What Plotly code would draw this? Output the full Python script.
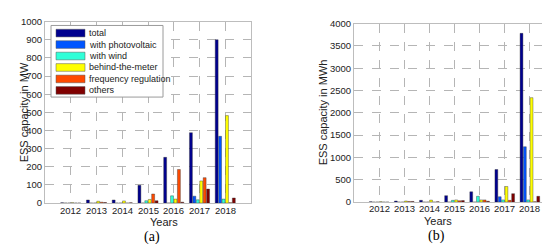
import plotly.graph_objects as go
from plotly.subplots import make_subplots

years = [2012, 2013, 2014, 2015, 2016, 2017, 2018]
series_names = ["total", "with photovoltaic", "with wind", "behind-the-meter",
                "frequency regulation", "others"]
colors = ["#00008F", "#0055FF", "#30FFD8", "#FFFF00", "#FF4A00", "#800000"]

# (a) power capacity in MW
mw_total = [2, 17, 17, 98, 252, 388, 900]
mw_pv = [0, 0, 0, 0, 0, 38, 368]
mw_wind = [0, 0, 0, 13, 40, 18, 22]
mw_btm = [2, 10, 12, 20, 22, 122, 482]
mw_freq = [0, 5, 0, 50, 185, 140, 2]
mw_other = [0, 3, 2, 13, 5, 77, 28]

# (b) energy capacity in MWh
mwh_total = [10, 25, 40, 145, 230, 730, 3780]
mwh_pv = [0, 0, 0, 0, 0, 120, 1240]
mwh_wind = [0, 0, 0, 40, 130, 50, 50]
mwh_btm = [10, 25, 45, 50, 50, 350, 2340]
mwh_freq = [0, 15, 0, 30, 50, 40, 10]
mwh_other = [0, 15, 10, 35, 20, 190, 130]

W, H = 550, 244


def px(x):
    return x / W


def py(y):
    return 1 - y / H


fig = make_subplots(rows=1, cols=2)

for col, data in [(1, [mw_total, mw_pv, mw_wind, mw_btm, mw_freq, mw_other]),
                  (2, [mwh_total, mwh_pv, mwh_wind, mwh_btm, mwh_freq, mwh_other])]:
    for name, vals, c in zip(series_names, data, colors):
        fig.add_trace(go.Bar(x=years, y=vals, name=name, marker_color=c,
                             marker_line=dict(color="#333333", width=0.4),
                             showlegend=False), row=1, col=col)

tick_font = dict(family="Liberation Sans, Arial", size=9.5, color="#222222")
axis_common = dict(showline=True, linecolor="#bdbdbd", linewidth=1, mirror=True,
                   showgrid=True, gridcolor="#b5b5b5", griddash="dash", gridwidth=1,
                   zeroline=False, ticks="", tickfont=tick_font)

fig.update_xaxes(range=[2011, 2019], tickvals=years, showticklabels=False, **axis_common)
fig.update_xaxes(domain=[px(37), px(243)], row=1, col=1)
fig.update_xaxes(domain=[px(346), px(547)], row=1, col=2)
fig.update_yaxes(**axis_common)
fig.update_yaxes(range=[0, 1000], dtick=100, domain=[py(198), py(8)], row=1, col=1)
fig.update_yaxes(range=[0, 4000], dtick=500, domain=[py(197), py(10)], row=1, col=2)

label_font = dict(family="Liberation Sans, Arial", size=11, color="#222222")
annotations = [
    dict(x=px(140), y=py(218), text="Years", font=label_font),
    dict(x=px(446), y=py(217), text="Years", font=label_font),
    dict(x=px(8), y=py(103), text="ESS capacity in MW", textangle=-90, font=label_font),
    dict(x=px(315), y=py(103), text="ESS capacity in MWh", textangle=-90, font=label_font),
    dict(x=px(134), y=py(234), text="(a)",
         font=dict(family="Liberation Serif, DejaVu Serif", size=14, color="#000000")),
    dict(x=px(439), y=py(233), text="(b)",
         font=dict(family="Liberation Serif, DejaVu Serif", size=14, color="#000000")),
]

# year labels placed close under the axes, as in the original
for xref, ylab in [("x", 206), ("x2", 204)]:
    for yr in years:
        annotations.append(dict(x=yr, xref=xref, y=py(ylab), text=str(yr), font=tick_font))

# legend box drawn by hand (wide swatches as in the original)
shapes = [dict(type="rect", xref="paper", yref="paper", x0=px(43), x1=px(155),
               y0=py(87), y1=py(12), line=dict(color="#9a9a9a", width=1),
               fillcolor="white", layer="above")]
for i, (name, c) in enumerate(zip(series_names, colors)):
    yc = 20 + i * 12
    shapes.append(dict(type="rect", xref="paper", yref="paper", x0=px(48), x1=px(77),
                       y0=py(yc + 4), y1=py(yc - 4), fillcolor=c,
                       line=dict(color="#555555", width=0.5), layer="above"))
    annotations.append(dict(x=px(79), y=py(yc), text=name, xanchor="left",
                            font=dict(family="Liberation Sans, Arial", size=9,
                                      color="#222222")))

for a in annotations:
    a.setdefault("xref", "paper")
    a.setdefault("yref", "paper")
    a.setdefault("showarrow", False)
    a.setdefault("yanchor", "middle")

fig.update_layout(width=W, height=H, margin=dict(l=0, r=0, t=0, b=0),
                  paper_bgcolor="white", plot_bgcolor="white",
                  barmode="group", bargap=0.2, bargroupgap=0.15,
                  annotations=annotations, shapes=shapes)

fig.write_html("out.html")
